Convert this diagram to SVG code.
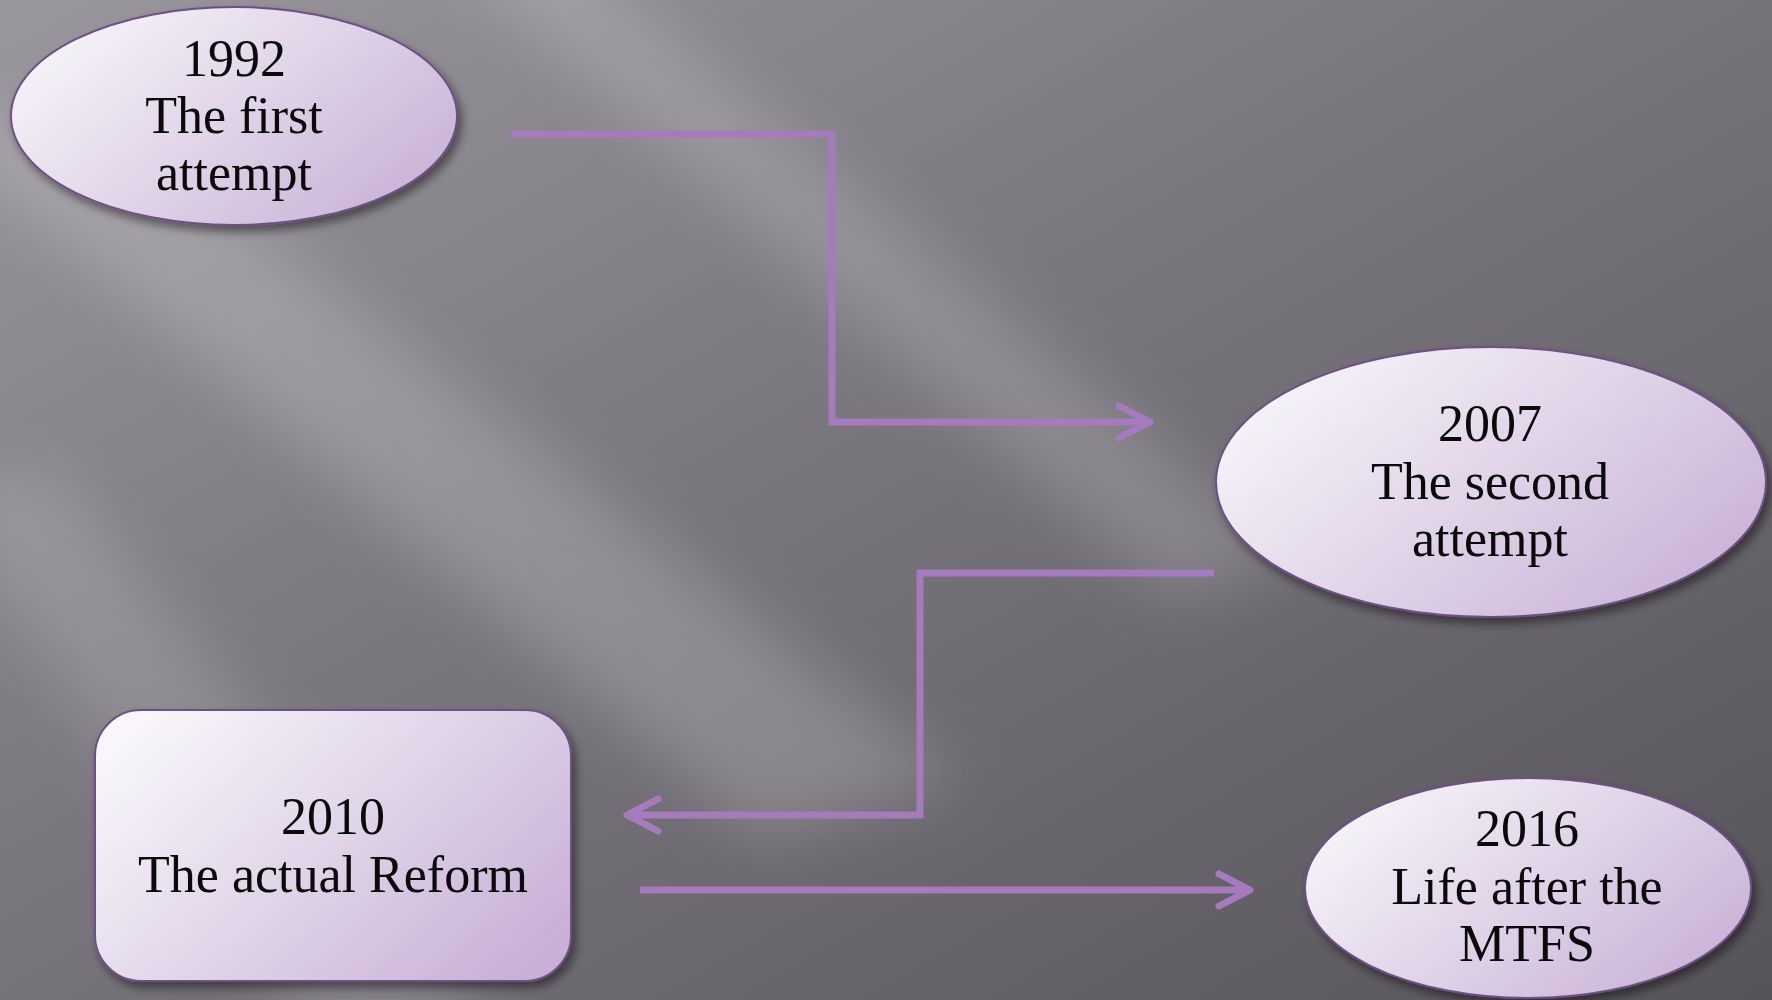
<svg xmlns="http://www.w3.org/2000/svg" width="1772" height="1000" viewBox="0 0 1772 1000">
  <style>
    .node-shape { fill: url(#nodeFill); stroke: #6E4F86; stroke-width: 2; filter: url(#shadow); }
    .label { font-family: "Liberation Serif", "DejaVu Serif", serif; font-size: 52px; fill: #0a0a0a; text-anchor: middle; }
    .conn { fill: none; stroke: #A57BBE; stroke-width: 7; stroke-linejoin: miter; stroke-linecap: butt; }
    .head { fill: none; stroke: #A57BBE; stroke-width: 7; stroke-linejoin: round; stroke-linecap: round; }
  </style>
  <defs>
    <linearGradient id="bg" x1="0" y1="0" x2="1" y2="1">
      <stop offset="0" stop-color="#99969d"/>
      <stop offset="0.45" stop-color="#79767d"/>
      <stop offset="1" stop-color="#56535a"/>
    </linearGradient>
    <linearGradient id="nodeFill" x1="0" y1="0.2" x2="1" y2="0.8">
      <stop offset="0" stop-color="#f8f6fa"/>
      <stop offset="0.5" stop-color="#e0d4e8"/>
      <stop offset="1" stop-color="#c8b0d6"/>
    </linearGradient>
    <filter id="shadow" x="-10%" y="-10%" width="125%" height="130%">
      <feDropShadow dx="4" dy="6" stdDeviation="5" flood-color="#000" flood-opacity="0.45"/>
    </filter>
    <filter id="blurBig" x="-30%" y="-30%" width="160%" height="160%">
      <feGaussianBlur stdDeviation="30"/>
    </filter>
  </defs>

  <!-- background -->
  <rect x="0" y="0" width="1772" height="1000" fill="url(#bg)"/>
  <g filter="url(#blurBig)">
    <polygon points="430,-60 560,-60 1300,560 1170,600" fill="#ffffff" opacity="0.16"/>
    <polygon points="-80,120 120,120 960,780 760,840" fill="#ffffff" opacity="0.18"/>
    <polygon points="-80,480 60,470 520,1060 330,1060" fill="#ffffff" opacity="0.14"/>
  </g>

  <!-- connectors -->
  <g id="connectors">
    <path class="conn" d="M 511 134 H 832 V 422 H 1146"/>
    <polyline class="head" points="1119,406 1150,422 1119,438"/>
    <path class="conn" d="M 1214 573 H 920 V 815 H 631"/>
    <polyline class="head" points="658,799 627,815 658,831"/>
    <path class="conn" d="M 640 890 H 1246"/>
    <polyline class="head" points="1219,874 1250,890 1219,906"/>
  </g>

  <!-- nodes -->
  <g id="node-1992">
    <ellipse class="node-shape" cx="234" cy="116" rx="223" ry="109"/>
    <text class="label" x="234" y="76">1992</text>
    <text class="label" x="234" y="133">The first</text>
    <text class="label" x="234" y="190">attempt</text>
  </g>
  <g id="node-2007">
    <ellipse class="node-shape" cx="1491" cy="482" rx="275" ry="135"/>
    <text class="label" x="1490" y="441">2007</text>
    <text class="label" x="1490" y="499">The second</text>
    <text class="label" x="1490" y="556">attempt</text>
  </g>
  <g id="node-2010">
    <rect class="node-shape" x="95" y="710" width="476" height="271" rx="46" ry="46"/>
    <text class="label" x="333" y="834">2010</text>
    <text class="label" x="333" y="892">The actual Reform</text>
  </g>
  <g id="node-2016">
    <ellipse class="node-shape" cx="1528" cy="888" rx="223" ry="110"/>
    <text class="label" x="1527" y="846">2016</text>
    <text class="label" x="1527" y="904">Life after the</text>
    <text class="label" x="1527" y="961">MTFS</text>
  </g>
</svg>
